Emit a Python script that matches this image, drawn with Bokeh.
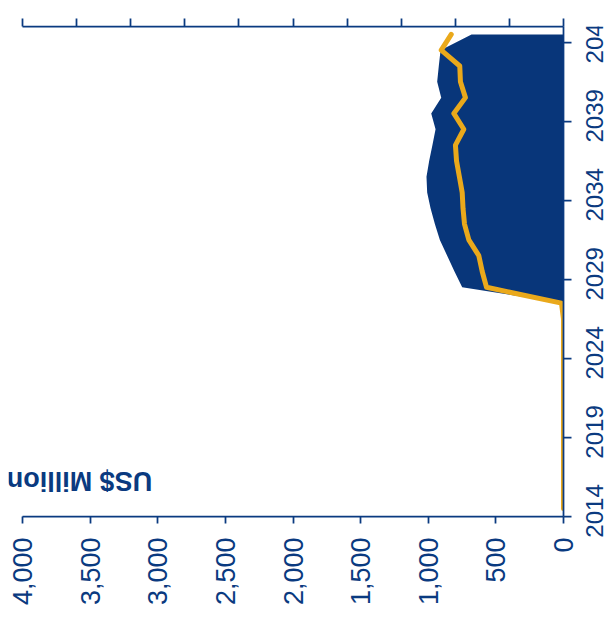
from math import pi
from bokeh.plotting import figure
from bokeh.layouts import row
from bokeh.models import (ColumnDataSource, Range1d, LinearAxis, FixedTicker,
                          NumeralTickFormatter, CustomJSTickFormatter, Label)
from bokeh.core.properties import value
from bokeh.embed import file_html
from bokeh.resources import INLINE

# ---- data ----
years = list(range(2014, 2045))
area_values = [0] * 13 + [0, 749, 806, 860, 914, 951, 983, 1008, 1013, 993,
                          969, 946, 978, 904, 934, 922, 909, 680]
line_values = [0] * 13 + [15, 569, 601, 626, 700, 732, 743, 749, 770, 791,
                          799, 737, 811, 725, 762, 767, 904, 830]
year_tick_labels = [2014, 2019, 2024, 2029, 2034, 2039, 2044]
value_ticks = [0, 500, 1000, 1500, 2000, 2500, 3000, 3500, 4000]
secondary_ticks = [0, 400, 800, 1200, 1600, 2000, 2400, 2800, 3200, 3600, 4000]
unit_label = "US$ Million"

NAVY = "#0A3A80"
AREA = "#08367A"
ORANGE = "#EAA91B"
FONT = "Liberation Sans"
YEAR_FS = 24
VALUE_FS = 27

H = 617
TOP, BOTTOM = 26, 101
PX_PER_YEAR = (H - TOP - BOTTOM) / 31.0

src = ColumnDataSource(dict(
    y=[yr + 0.5 for yr in years],
    zero=[0] * len(years),
    area=area_values,
    line=line_values,
))

p = figure(width=578, height=H,
           x_range=Range1d(4000 + 14 / 0.13525, 0), y_range=Range1d(2014, 2045),
           output_backend="svg", toolbar_location=None,
           x_axis_location="below", y_axis_location="right",
           min_border_left=8, min_border_right=15,
           min_border_top=TOP, min_border_bottom=BOTTOM)
p.outline_line_color = None
p.xgrid.visible = False
p.ygrid.visible = False
p.background_fill_color = "white"

p.harea(y="y", x1="zero", x2="area", source=src, fill_color=AREA)
p.line(x="line", y="y", source=src, line_color=ORANGE, line_width=5,
       line_join="round", line_cap="round")

# bottom value axis
xa = p.xaxis[0]
xa.bounds = (0, 4000)
xa.ticker = FixedTicker(ticks=value_ticks)
xa.formatter = NumeralTickFormatter(format="0,0")
xa.major_label_orientation = pi / 2
xa.major_tick_out = 7
xa.major_tick_in = 0
xa.minor_tick_line_color = None
xa.major_label_standoff = 14
xa.major_label_text_font_size = f"{VALUE_FS}px"

# right year axis: line and ticks at year boundaries
ya = p.yaxis[0]
ya.ticker = FixedTicker(ticks=year_tick_labels)
ya.formatter = CustomJSTickFormatter(code="return '';")
ya.major_tick_out = 8
ya.major_tick_in = 0
ya.minor_tick_line_color = None
ya.major_label_standoff = 0

# top secondary axis (its labels fall outside the picture in the reference)
top = LinearAxis(bounds=(0, 4000), ticker=FixedTicker(ticks=secondary_ticks))
top.formatter = CustomJSTickFormatter(code="return '';")
top.major_label_standoff = 0
top.major_tick_out = 8
top.major_tick_in = 0
top.minor_tick_line_color = None
p.add_layout(top, "above")

for ax in (xa, ya, top):
    ax.major_label_text_color = NAVY
    ax.major_label_text_font = FONT
    ax.axis_line_color = NAVY
    ax.axis_line_width = 1.75
    ax.major_tick_line_color = NAVY
    ax.major_tick_line_width = 1.75

p.add_layout(Label(x=3041, y=2016.25, text=unit_label, angle=pi,
                   text_font=FONT, text_font_style="bold",
                   text_font_size="27px", text_color=NAVY,
                   text_align="left", text_baseline="alphabetic"))

# narrow strip carrying the year labels (read upwards, centred on the years);
# its frame runs down to the bottom edge so that the 2014 label is not clipped
q = figure(width=30, height=H, x_range=Range1d(0, 30),
           y_range=Range1d(2014 - BOTTOM / PX_PER_YEAR, 2045),
           output_backend="svg", toolbar_location=None,
           x_axis_location=None, y_axis_location=None,
           min_border_left=0, min_border_right=0,
           min_border_top=TOP, min_border_bottom=0)
q.outline_line_color = None
q.xgrid.visible = False
q.ygrid.visible = False
q.title.visible = False
for fig in (p, q):
    if "frame_align" in fig.properties():
        fig.frame_align = False

lab = ColumnDataSource(dict(
    x=[16] * len(year_tick_labels),
    y=[yr + 0.35 for yr in year_tick_labels],
    t=[str(yr) for yr in year_tick_labels],
))
q.text(x="x", y="y", text="t", source=lab, angle=pi / 2,
       text_align="center", text_baseline="middle",
       text_font=value(FONT), text_font_size=f"{YEAR_FS}px", text_color=NAVY)

open("out.html", "w").write(file_html(row(p, q), INLINE))
